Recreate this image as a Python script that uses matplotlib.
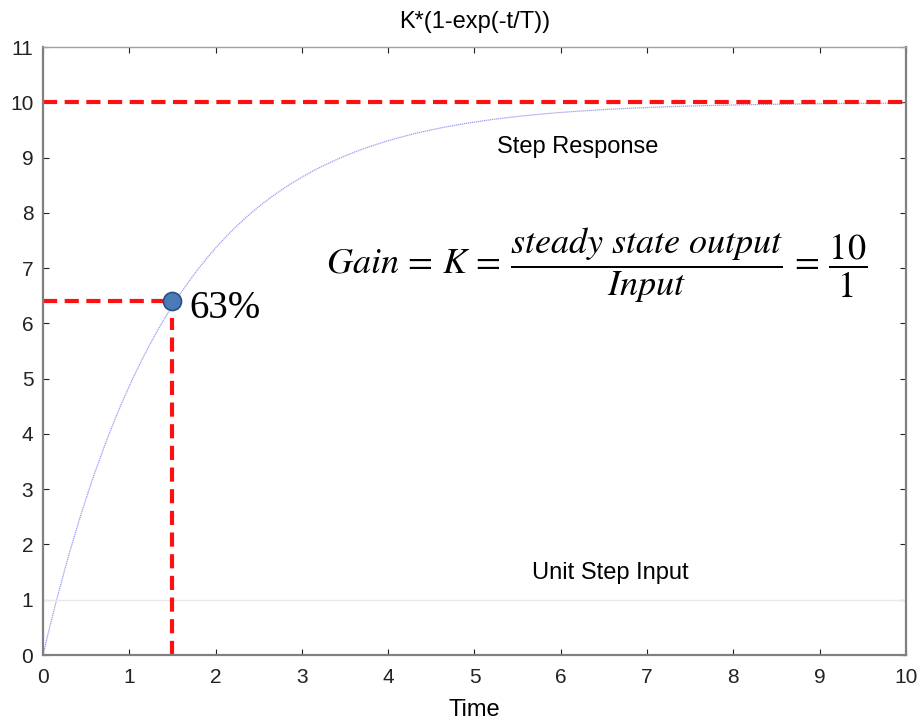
import numpy as np
import matplotlib
matplotlib.use("Agg")
import matplotlib.pyplot as plt

plt.rcParams['font.family'] = ['Liberation Sans', 'DejaVu Sans']
plt.rcParams['mathtext.fontset'] = 'stix'

# First-order system parameters
K = 10.0
T = 1.5
t = np.linspace(0, 10, 400)
response = K * (1 - np.exp(-t / T))

steady_level = 10
tau_point_x = 1.5
tau_point_y = 6.4
step_input = 1

x_ticks = list(range(0, 11))
y_ticks = list(range(0, 12))

fig = plt.figure(figsize=(9.21, 7.24), dpi=100)
ax = fig.add_axes([0.0467, 0.0953, 0.937, 0.8397])

ax.plot(t, response, color='#9a9cf0', lw=0.9, ls=(0, (1, 0.6)))
ax.plot([0, 10], [step_input, step_input], color='#e8e8e8', lw=1)

dash = (0, (3.4, 1.8))
ax.plot([0, 10], [steady_level, steady_level], color='#ff1010', lw=3, ls=dash)
ax.plot([0, tau_point_x], [tau_point_y, tau_point_y], color='#ff1010', lw=3, ls=dash)
ax.plot([tau_point_x, tau_point_x], [0, tau_point_y - 0.3], color='#ff1010', lw=3, ls=dash)
ax.plot([tau_point_x], [tau_point_y], 'o', ms=13, mfc='#4a7ab8', mec='#2f4f80', mew=1.2, zorder=5)

ax.text(1.7, 6.27, '63%', fontsize=28, family=['Liberation Serif'], va='center', ha='left')
ax.text(6.19, 9.19, 'Step Response', fontsize=17, ha='center', va='center')
ax.text(6.57, 1.48, 'Unit Step Input', fontsize=17, ha='center', va='center')
ax.text(6.42, 7.05,
        r'$Gain\,=\,K\,=\,\dfrac{steady\ state\ output}{Input}\,=\,\dfrac{10}{1}$',
        fontsize=26, ha='center', va='center')

ax.set_xlim(0, 10)
ax.set_ylim(0, 11)
ax.set_xticks(x_ticks)
ax.set_yticks(y_ticks)
ax.tick_params(direction='in', length=4, width=0.8, top=True, right=True,
               labelsize=15, colors='#222222')
ax.tick_params(axis='x', pad=9)
ax.tick_params(axis='y', pad=7)
for s in ax.spines.values():
    s.set_color('#808080')
    s.set_linewidth(1.6)
ax.spines['top'].set_color('#a0a0a0')
ax.spines['top'].set_linewidth(1.0)
ax.set_title('K*(1-exp(-t/T))', fontsize=17, pad=14)
ax.set_xlabel('Time', fontsize=17, labelpad=9)

fig.savefig('out.png', dpi=100)
